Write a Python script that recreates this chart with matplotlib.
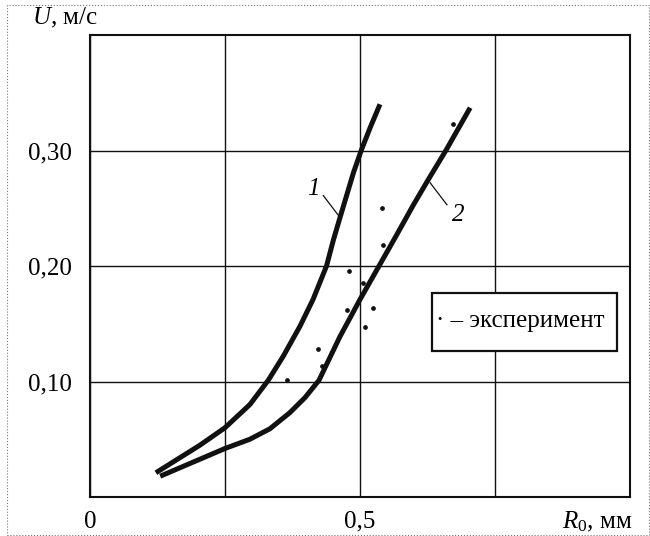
import matplotlib
matplotlib.use('Agg')
import matplotlib.pyplot as plt
from matplotlib.patches import Rectangle

# кривая 1 (R0, мм ; U, м/с)
r_1 = [0.122, 0.204, 0.250, 0.296, 0.330, 0.358, 0.389, 0.413, 0.438, 0.451, 0.463,
       0.488, 0.503, 0.519, 0.537]
u_1 = [0.021, 0.045, 0.060, 0.080, 0.101, 0.122, 0.148, 0.171, 0.200, 0.223, 0.242,
       0.281, 0.301, 0.320, 0.340]

# кривая 2
r_2 = [0.130, 0.250, 0.296, 0.333, 0.370, 0.398, 0.424, 0.463, 0.500, 0.534, 0.568,
       0.599, 0.628, 0.659, 0.704]
u_2 = [0.018, 0.042, 0.050, 0.059, 0.073, 0.086, 0.101, 0.139, 0.171, 0.199, 0.227,
       0.253, 0.276, 0.300, 0.337]

# эксперимент
r_exp = [0.540, 0.543, 0.480, 0.506, 0.475, 0.524, 0.509, 0.423, 0.429, 0.364, 0.672]
u_exp = [0.250, 0.218, 0.196, 0.185, 0.162, 0.164, 0.147, 0.128, 0.113, 0.101, 0.323]

x_ticks = [0, 0.25, 0.5, 0.75]
x_labels = ['0', '', '0,5', '']
y_ticks = [0.1, 0.2, 0.3]
y_labels = ['0,10', '0,20', '0,30']

plt.rcParams['font.family'] = ['Liberation Serif', 'DejaVu Serif']
plt.rcParams['mathtext.fontset'] = 'custom'
plt.rcParams['mathtext.rm'] = 'Liberation Serif'
plt.rcParams['mathtext.it'] = 'Liberation Serif:italic'

fig = plt.figure(figsize=(6.5, 5.36), dpi=100)
ax = fig.add_axes([90 / 650, 39 / 536, 540 / 650, 462 / 536])

# рамка вокруг рисунка
fig.patches.append(Rectangle((7 / 650, 1 / 536), 642 / 650, 530 / 536, transform=fig.transFigure,
                             fill=False, ls=':', lw=0.8, ec='#777777'))

ax.plot(r_1, u_1, color='#111111', lw=3.6, solid_capstyle='butt', solid_joinstyle='round', zorder=3)
ax.plot(r_2, u_2, color='#111111', lw=3.6, solid_capstyle='butt', solid_joinstyle='round', zorder=3)
ax.plot(r_exp, u_exp, ls='none', marker='o', ms=2.4, color='#111111', zorder=3)

ax.set_xlim(0, 1.0)
ax.set_ylim(0, 0.40)
ax.set_xticks(x_ticks)
ax.set_xticklabels(x_labels)
ax.set_yticks(y_ticks)
ax.set_yticklabels(y_labels)
ax.tick_params(length=0, labelsize=18)
ax.tick_params(axis='x', pad=10)
ax.tick_params(axis='y', pad=13)
ax.grid(True, color='#111111', lw=1.0)
for s in ax.spines.values():
    s.set_linewidth(1.5)
    s.set_color('#111111')

# подписи кривых
ax.text(0.414, 0.267, '1', style='italic', fontsize=18, ha='center', va='center')
ax.plot([0.432, 0.463], [0.261, 0.242], color='#111111', lw=0.9)
ax.text(0.681, 0.244, '2', style='italic', fontsize=18, ha='center', va='center')
ax.plot([0.630, 0.661], [0.272, 0.253], color='#111111', lw=0.9)

# легенда
ax.add_patch(Rectangle((0.633, 0.316), 0.342, 0.126, transform=ax.transAxes,
                       fc='white', ec='#111111', lw=1.6, zorder=4))
ax.text(0.641, 0.381, '· – эксперимент', transform=ax.transAxes, fontsize=18,
        ha='left', va='center', zorder=5)

ax.text(-0.046, 1.037, '$U$, м/с', transform=ax.transAxes, fontsize=18, ha='center', va='center')
ax.text(0.94, -0.054, '$R_{\\mathrm{0}}$, мм', transform=ax.transAxes, fontsize=18,
        ha='center', va='center')

fig.savefig('out.png', dpi=100)
